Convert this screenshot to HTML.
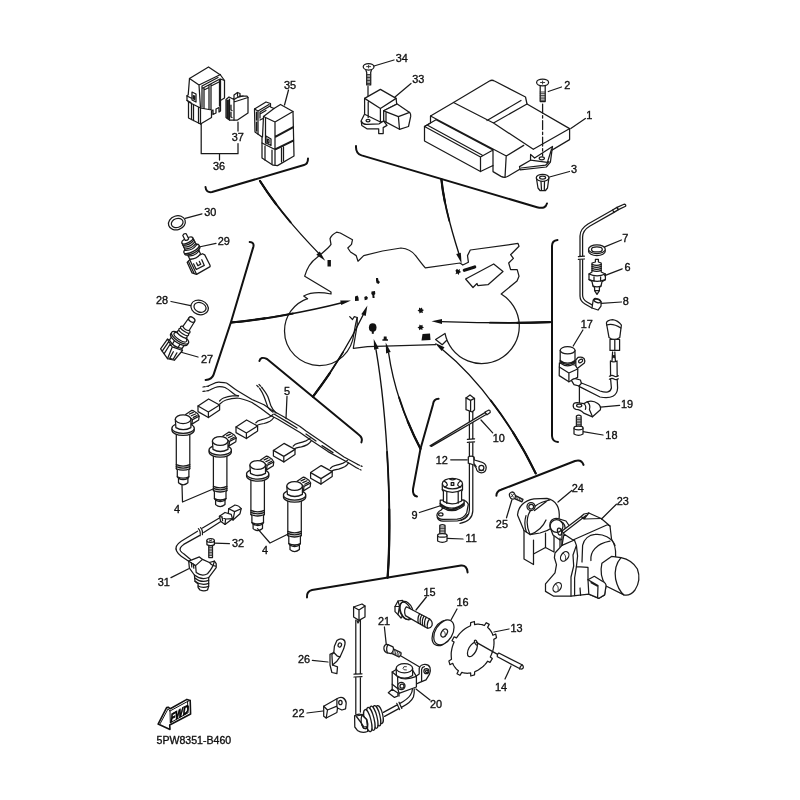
<!DOCTYPE html>
<html><head><meta charset="utf-8">
<style>
html,body{margin:0;padding:0;background:#fff;width:800px;height:800px;overflow:hidden}
svg{display:block;opacity:0.9999;will-change:transform}
text{font-family:"Liberation Sans",sans-serif;font-size:10.9px;fill:#111;stroke:#111;stroke-width:0.35px}
.l{fill:none;stroke:#1a1a1a;stroke-width:1.25;stroke-linecap:round;stroke-linejoin:round}
.f{fill:#fff;stroke:#1a1a1a;stroke-width:1.25;stroke-linecap:round;stroke-linejoin:round}
.t{fill:none;stroke:#111;stroke-width:2;stroke-linecap:round;stroke-linejoin:round}
.m{fill:none;stroke:#111;stroke-width:1.35;stroke-linecap:round;stroke-linejoin:round}
.k{fill:#111;stroke:none}
.g{fill:none;stroke:#2a2a2a;stroke-width:0.9;stroke-linecap:round;stroke-linejoin:round}
</style></head><body>
<svg width="800" height="800" viewBox="0 0 800 800">
<rect width="800" height="800" fill="#fff"/>
<g id="relays">
<!-- relay A (36) -->
<path class="f" d="M208.5,67 L189.5,78.5 L188.2,95 L187,95.5 L187,100.5 L188.5,101.5 L188.5,118 L200.5,124 L211.5,117.5 L211.5,111 L213,110 L213,114.5 L216,113 L216,109 L219,107.5 L219,112 L220.5,111 L220.5,100.5 L224.5,98 L224.5,80.5 L220.5,75 Z"/>
<path class="l" d="M189.5,78.5 L199,85 L220.5,74.5 M199,85 L200.5,108 L200.5,124 M188.5,102 L200.5,108 L211.5,110 M202,86 L202,107 M204,88 L204,108 M209,85 L209,109 M211,84 L211,109 M219.5,79 L219.5,106 M202,86 L218,77.5 M203,88 L219,79.5 M204,90 L209,87.5 M211,86 L219,82 M220.5,79 L224.5,80.5 M220.5,79 L220.5,100 M191.5,104 L191.5,119.5 M193.5,105 L193.5,120.5 M198.5,107.5 L198.5,123 M192,92 L196,94 L196,102 L192,100 Z M193.5,95.5 L194.5,96 L194.5,99.5 L193.5,99 Z M187,96 L191,98 M187,100.5 L191,102.5"/>
<!-- relay 37 -->
<path class="f" d="M226,99.5 L229,97 L234,99.5 L234,95 L237.5,92.5 L240,93.5 L240,96 L247,96 L248,97.5 L248,113 L237.5,120 L229.5,120 L226,117.5 Z"/>
<path class="l" d="M234,99.5 L234,102 L248,97.5 M234,102 L234,120 M227,100 L227,118 M228.2,100 L228.2,119 M229.5,99 L229.5,120 M231,105 L231,110 L232,110.5 M231,112 L231,117 L232,117.5 M234,99.5 L240,96 M236,98 L243,96 M237.5,92.5 L237.5,96"/>
<!-- relay B (35) -->
<path class="f" d="M254.5,109 L266,102 L270.5,103.5 L270.5,107 L274,108.5 L280.5,104.5 L293,111.5 L294,156 L277.5,165.6 L273,165.2 L262,158 L262,137 L255,132 Z"/>
<path class="l" d="M263.5,116.5 L275,122 L293,111.5 M263.5,116.5 L274,108.5 M275,122 L275,164.5 M263.5,116.5 L262.5,137 M265.5,118 L265.5,143 M275,136.5 L293.5,126.5 M275,137.5 L293.5,127.5 M275,149 L293.5,140 M275,150 L293.5,141 M262,143 L275,149.5 M254.5,109 L258,111 L258,134 M258,111 L269,104.5 M256.5,112 L256.5,120 M256.5,122 L256.5,131 M260,112 L270,106 M260,114 L266,110.5 M260,112 L260,118 M260,120 L263,118.5 M266,136 L271,139 L271,145.5 L266,143 Z M267.5,139 L269,139.8 L269,143 L267.5,142.2 Z M265,146 L265,160 M272,150 L272,164 M281.5,148 L281.5,162 M283.5,147 L283.5,161"/>
<!-- leaders -->
<path class="l" d="M284.5,105 L288.5,90 M201.2,124 L201.2,153.7 L238,153.7 L238,143.5 M238,122 L238,131 M219.5,153.7 L219.5,160"/>
<text x="290" y="88.7" text-anchor="middle">35</text>
<text x="237.7" y="141" text-anchor="middle">37</text>
<text x="219" y="170" text-anchor="middle">36</text>
<!-- bracket -->
<path class="t" d="M205.5,187 Q206,193 212,192 L304,165 Q308,164 308,158.5"/>
<path class="m" d="M260,181 C275,205 298,232 319,253.6"/>

<path class="m" style="stroke-width:1.8" stroke-dasharray="51.5 2000" d="M260,181 C275,205 298,232 319,253.6"/>
<path class="m" style="stroke-width:2.2" stroke-dasharray="28.1 2000" d="M260,181 C275,205 298,232 319,253.6"/>
<path class="k" d="M325.2,260.8 L316.3,254.7 L319.8,251.5 Z"/>
</g>

<g id="ecu">
<!-- screw 34 -->
<path class="f" d="M365.4,68.6 L366.7,72.5 L366.7,84.9 L370.7,84.9 L370.7,72.5 L371.8,68.6 Z"/>
<path class="g" d="M366.7,74.5 L370.7,74.5 M366.7,76 L370.7,76 M366.7,77.5 L370.7,77.5 M366.7,79 L370.7,79 M366.7,80.5 L370.7,80.5 M366.7,82 L370.7,82 M366.7,83.5 L370.7,83.5"/>
<ellipse class="f" cx="368.6" cy="66.8" rx="5.4" ry="3.2"/>
<path class="g" d="M366.6,66.6 L370.6,66.6 M368.6,65.2 L368.6,68"/>
<path class="l" d="M368,86.4 L368,96 M374,66 L394,60 M395,97 L411,83.5"/>
<text x="401.8" y="61.6" text-anchor="middle">34</text>
<text x="418.3" y="82.6" text-anchor="middle">33</text>
<!-- sensor 33 -->
<path class="f" d="M364.6,114 L361.2,120.8 L361.8,125.4 L366.9,128.8 L378.7,128.8 L378.7,133.6 L383.2,133.6 L383.2,127.6 L387,125.4 L383.7,121 L364.6,112 Z"/>
<path class="l" d="M361.3,121.4 Q363,124.6 366.9,124.4 L379.2,123.8 L383.7,121"/>
<ellipse class="l" cx="368" cy="120.6" rx="2" ry="1.3"/>
<path class="f" d="M364.6,98.4 L380.4,89.4 L396.1,98.4 L396.7,104 L383.7,110.8 L383.7,121 L380.4,122 L364.6,114.2 Z"/>
<path class="l" d="M364.6,98.4 L380.4,108.5 L396.1,98.4 M380.4,108.5 L380.4,122 M368.2,102 L368.2,117.4"/>
<path class="f" d="M383.7,110.8 L397.2,104 L409.6,112.4 Q411,114 410.7,116.4 L408.5,126.5 L399.5,129.3 L383.7,120.9 Z"/>
<path class="l" d="M383.7,110.8 L398.4,116.6 L409.6,112.4 M398.4,116.6 L399.5,129.3 M386,112.4 L386,121.8"/>
<!-- ECU body -->
<path class="f" d="M430.5,116 L453.5,102.5 L489.5,81 Q492,79.5 494.5,81 L525.5,97 L527,104 L569.6,128.6 L569.6,139.6 L508.4,176 Q504.6,178.4 501,176.4 L493,171.6 L493,165.5 L480.5,171.5 L424.5,141 L424.5,126.5 L430.5,123 Z"/>
<path class="l" d="M453.5,102.5 L493.5,123 L527,104 M487,120.5 L521,100.5 M493.5,123 L533.3,149.3 M430.5,116 L506.3,156 L523.7,145.4 M533.3,149.3 L569.4,128.8 M506.2,156 L505,177.4 M436,119.8 L493,150 L493,165.5 M424.5,126.5 L436,119.8 M424.5,126.5 L480.5,157 L493,150 M480.5,157 L480.5,171.5 M428,125.5 L482,155"/>
<!-- bracket under ECU -->
<path class="f" d="M519.5,166.6 L530.5,160.2 L530.6,154.4 L534.6,158 L552.5,146.4 L550.4,162.2 L546.3,167 L520.2,169.8 Z"/>
<path class="l" d="M530.5,160.2 L547.4,162.4 L551.6,149 M521,168 L545.6,165.2 L549,161.6"/>
<ellipse class="l" cx="541.8" cy="158.3" rx="2.6" ry="1.5"/>
<!-- screw 2 -->
<path class="f" d="M540.2,85 L540.2,101.5 L545.2,101.5 L545.2,85 Z"/>
<path class="g" d="M540.2,92 L545.2,92 M540.2,93.7 L545.2,93.7 M540.2,95.4 L545.2,95.4 M540.2,97.1 L545.2,97.1 M540.2,98.8 L545.2,98.8 M540.2,100.3 L545.2,100.3"/>
<ellipse class="f" cx="542.6" cy="82.5" rx="6" ry="3.4"/>
<path class="g" d="M540.5,82.5 L544.7,82.5 M542.6,81 L542.6,84"/>
<path class="l" stroke-dasharray="9 2.5 2.5 2.5" d="M542.6,104 L542.6,156"/>
<path class="l" d="M548.3,91.5 L561.5,87 M570.8,128.6 L585.4,118.5 M549.5,177 L569.5,171.5"/>
<text x="567.4" y="89.3" text-anchor="middle">2</text>
<text x="589.2" y="119" text-anchor="middle">1</text>
<text x="574.1" y="173" text-anchor="middle">3</text>
<!-- grommet 3 -->
<path class="f" d="M536.4,178 L538,188 L540,190.5 L545.5,190.5 L547.5,188 L548.9,178 Z"/>
<ellipse class="f" cx="542.6" cy="177.8" rx="6.3" ry="3.5"/>
<ellipse class="l" cx="542.6" cy="177.6" rx="3" ry="1.6"/>
<path class="l" d="M541,181.3 L541.5,190 M544.5,181.3 L544.3,190"/>
<!-- bracket -->
<path class="t" d="M356,146 Q355.6,153.4 361.6,155.4 L537,207.2 Q545.6,209.6 547,203.4"/>
<path class="m" d="M441.4,179.4 C444,205 452,232 459,254"/>

<path class="m" style="stroke-width:1.8" stroke-dasharray="42.2 2000" d="M441.4,179.4 C444,205 452,232 459,254"/>
<path class="m" style="stroke-width:2.2" stroke-dasharray="23.0 2000" d="M441.4,179.4 C444,205 452,232 459,254"/>
<path class="k" d="M461.6,263.4 L456.2,254.1 L460.8,252.7 Z"/>
</g>

<g id="bike">
<!-- front wheel -->
<path class="l" d="M307.5,298.7 C294,303.4 284.5,316 284.5,331 A35,34.5 0 0 0 319.5,365.5 C338,365.5 352,352 354,333 C355,327 356,322 357.2,317.5"/>
<!-- body outline -->
<path class="l" d="M307.5,298.7 L303.7,296 C310,292.6 320,291.8 331,294 L331,292 L304.7,276.2 C307,268 312,261 317,257.5 C322,253 329,248 331,244.4 L330,238.7 C331,236 334,233.5 336.6,232.2 L340.3,233 L352.5,239.7 L351.5,244.4 L347.8,248 L350.5,252 L356.2,255.6 L358,261.2 L363.7,255.6 L382.5,251 L401,248 C408,248.5 413,252 416,256 C419,260 422,264 425.3,267.8 L460,263 L462.8,265 L468.4,262.2 L467.5,255.6 L470.3,250 L518,243.4 L519,246.2 L510.6,254.7 L513.4,258.4 L508.7,263 L510.6,269.7 L517.2,269.7 L519,276.2 L517,281 L501.2,294 A37.5,37.5 0 1 1 445,333.4 L435.6,339.5 L442.2,344.7 L446.5,340.5"/>
<path class="l" d="M349.7,316.6 L352.5,319.5 L354.3,316.6 L357.2,317.5 L357.2,325 L353.4,347.5 L353.4,348.4 L367.5,346.6 L435.6,344.7"/>
<path class="l" d="M465.6,279 L493.7,264 L503,271.5 L488,284.7 L477.8,285.6 L477,283.5 L473,287.5 Z"/>
<!-- black marks -->
<rect class="k" x="327.5" y="260" width="3.4" height="6.5"/>
<path class="k" d="M376,278 l2,0 l0.5,2.5 l1.5,1.5 l-1.5,2 l-2,-1 l-0.5,-2.5 Z"/>
<path class="k" d="M355,296.5 l2.5,-1 l1,2 l0.3,3.2 l-3.8,0.3 Z M364.3,297 l2,-1 l1.6,1.6 l-0.6,2 l-2.6,0.6 Z M371.5,291.5 l3.5,-0.5 l0.3,3 l-1,1 l0.3,3 l-2,0 l-0.3,-3 l-1,-1 Z"/>
<ellipse class="k" cx="372.7" cy="327.5" rx="3.8" ry="4.3"/>
<rect class="k" x="371.8" y="331" width="2" height="2.8"/>
<path class="k" d="M382.4,339.2 L388,339.2 L388,340.8 L382.4,340.8 Z M383.8,336.6 L386.6,336.6 L386.8,339.4 L383.6,339.4 Z"/>
<path class="k" d="M455.5,270.5 l1.5,-1.8 l1.2,1.2 l1.8,-0.8 l-0.3,2 l1.5,1 l-2,0.8 l-0.3,2 l-1.5,-1.4 l-2,0.7 l0.8,-1.8 Z"/>
<path d="M464.3,270.3 L474.7,267" stroke="#111" stroke-width="3.2" fill="none" stroke-linecap="round"/>
<path class="k" d="M419,307.5 l1.5,1 l1.5,-1 l0.3,1.8 l1.7,0.7 l-1.5,1.2 l0.5,1.8 l-2,-0.6 l-1.5,1.2 l-0.3,-2 l-1.7,-0.8 l1.5,-1.2 Z"/>
<path class="k" d="M419.5,324.5 l1.5,1 l1.5,-0.8 l0,1.8 l1.5,1 l-1.7,0.8 l0.2,1.8 l-1.8,-0.8 l-1.5,1 l-0.2,-1.8 l-1.5,-1 l1.7,-1 Z"/>
<path class="k" d="M422.5,334 L430,333.5 L430.5,340 L421.5,340.5 Z"/>
<!-- arrows into bike -->
<path class="m" d="M231,322.5 C262,320 310,311 343,302.5"/>

<path class="m" style="stroke-width:1.8" stroke-dasharray="62.6 2000" d="M231,322.5 C262,320 310,311 343,302.5"/>
<path class="m" style="stroke-width:2.2" stroke-dasharray="34.2 2000" d="M231,322.5 C262,320 310,311 343,302.5"/>
<path class="k" d="M351.0,300.5 L341.2,305.1 L340.2,300.4 Z"/>
<path class="m" d="M550,322.2 C510,323.5 470,322.5 441,321.6"/>

<path class="m" style="stroke-width:1.8" stroke-dasharray="60.0 2000" d="M550,322.2 C510,323.5 470,322.5 441,321.6"/>
<path class="m" style="stroke-width:2.2" stroke-dasharray="32.7 2000" d="M550,322.2 C510,323.5 470,322.5 441,321.6"/>
<path class="k" d="M431.5,321.3 L442.0,319.1 L442.0,323.9 Z"/>
</g>

<g id="left">
<!-- ring 30 -->
<ellipse class="f" cx="176.9" cy="222.8" rx="8.6" ry="6.9" transform="rotate(-18 176.9 222.8)" stroke-width="1.9"/>
<ellipse class="l" cx="177.2" cy="223" rx="6" ry="4.5" transform="rotate(-18 177.2 223)"/>
<path class="l" d="M185.2,218.4 L202,213.8 M199,247 L216,243.4 M171,301.5 L190.6,305.6 M180.3,352 L198,357"/>
<text x="210.3" y="215.6" text-anchor="middle">30</text>
<text x="223.8" y="245.3" text-anchor="middle">29</text>
<text x="162.1" y="303.8" text-anchor="middle">28</text>
<text x="207.1" y="363.1" text-anchor="middle">27</text>
<!-- sensor 29 -->
<g transform="translate(184.5,234.6) rotate(-26)">
<path class="f" d="M-9.8,26.1 L-6.3,24.9 L7.8,25.1 L9.3,27.1 L9.5,38.8 L9,40 L-6.6,41 L-10,37.7 Z"/>
<path class="l" d="M-6.3,24.9 L-6.6,41 M-8.2,25.6 L-8.4,39.2"/>
<path class="l" stroke-width="1.6" d="M-4.7,30.2 L-4.7,36.5 L4.3,36.4 L4.5,30.2 M-1.6,30.6 L-1.6,33.8 L1.6,33.8 L1.6,30.6"/>
<path class="f" d="M-6,17 L-6,24.4 Q0,27.4 6,24.4 L6,17 Z"/>
<path class="l" d="M-6,21 Q0,24 6,21"/>
<ellipse class="f" cx="0" cy="17.6" rx="8.4" ry="3"/>
<ellipse class="f" cx="0" cy="16" rx="8.4" ry="3"/>
<path class="f" d="M-6,6.5 L-6.2,14.6 Q0,18 6.2,14.6 L6,6.5 Z"/>
<path class="l" d="M-6.1,9 Q0,12 6.1,9 M-6.1,11 Q0,14 6.1,11 M-6.2,13 Q0,16 6.2,13"/>
<ellipse class="f" cx="0" cy="6.5" rx="6" ry="2.4"/>
<path class="f" d="M-1.9,0 L-1.9,5.6 Q0,6.8 1.9,5.6 L1.9,0 Q0,-1.6 -1.9,0 Z"/>
</g>
<!-- ring 28 -->
<ellipse class="f" cx="199.6" cy="307.4" rx="8.9" ry="7.1" transform="rotate(20 199.6 307.4)" stroke-width="1.9"/>
<ellipse class="l" cx="200" cy="307.4" rx="6.2" ry="4.7" transform="rotate(20 200 307.4)"/>
<!-- sensor 27 -->
<g transform="translate(191.8,319.6) rotate(33)">
<path class="f" d="M-10.2,41.6 L-9.8,29.6 L5.9,29.1 L9,31 L7.5,43.6 L0.9,46 Z"/>
<path class="l" d="M-1.5,33.6 L0.9,46 M-9.8,29.8 L-1.5,33.6 L9,31 M-7.4,31 L-7.6,42.6 M-4.8,32.2 L-4.6,43.6 M2,37 L2.6,44.6 L6,43.4 L5.6,36"/>
<path class="f" d="M-7.6,24 L-7.6,29.4 Q0,33.6 7.6,29.4 L7.6,24 Z"/>
<path class="l" d="M-3,26 L-3,31.4 M3.6,26 L3.6,31.2"/>
<ellipse class="f" cx="0" cy="23.4" rx="10" ry="3.9"/>
<ellipse class="f" cx="0" cy="21.6" rx="10" ry="3.9"/>
<ellipse class="l" cx="0" cy="21" rx="7.4" ry="2.7"/>
<ellipse class="f" cx="0" cy="17.6" rx="5.7" ry="2.1"/>
<ellipse class="f" cx="0" cy="14.8" rx="5.7" ry="2.1"/>
<ellipse class="f" cx="0" cy="12" rx="5.5" ry="2"/>
<path class="f" d="M-3.4,0 L-3.7,10.6 Q0,12.8 3.7,10.6 L3.4,0 Z"/>
<ellipse class="f" cx="0" cy="0" rx="3.4" ry="2.3"/>
</g>
<!-- bracket -->
<path class="t" d="M249.7,241.9 Q254.4,242.4 253.4,246.6 L231,322 L213.6,374.6 Q212,379.4 205.6,380"/>
</g>

<defs>
<g id="coil">
<path class="f" d="M2.5,-13.8 L8.8,-17.9 L10.6,-17.3 L14.4,-14.8 L16,-12 L15.6,-8.2 L8.8,-4.1 L5,-6 Z"/>
<path class="l" d="M16,-12 L9.4,-8.6 L8.8,-4.1 M9.4,-8.6 L6.6,-10.6"/>
<path class="l" stroke-width="1.5" d="M6.4,-14.2 L10.2,-15.8 M8.2,-12.4 L12.4,-14.2 M10.2,-10.8 L14,-12.6"/>
<path class="f" d="M-6.8,3 L-6.8,40.5 L-5.8,41.6 L-5.8,48.6 L-4.6,50 L-4.6,54.6 Q0,58.6 4.8,54.6 L4.8,50 L5.8,48.6 L5.8,41.6 L6.7,40.5 L6.7,3 Z"/>
<path class="l" d="M-6.8,36.4 Q0,39.4 6.7,36.4 M-6.8,38.4 Q0,41.4 6.7,38.4 M-6.8,40.5 Q0,43.5 6.7,40.5 M-5.8,48.6 Q0,51.4 5.8,48.6 M-4.6,50.2 Q0,52.8 4.8,50.2"/>
<ellipse class="f" cx="0" cy="1.8" rx="11.2" ry="5.4"/>
<ellipse class="f" cx="0" cy="0" rx="11.2" ry="5.2"/>
<path class="f" d="M-7.8,-9 L-7.2,-0.6 Q0,3.6 7.8,-0.6 L7.8,-9 Z"/>
<ellipse class="f" cx="0" cy="-9" rx="7.8" ry="4.4"/>
</g>
<g id="hbox">
<path class="f" d="M0,0 L10.6,-7 L21.6,-1 L21.6,4 L10.4,11.5 L0,5.6 Z"/>
<path class="l" d="M0,0 L10.4,6 L21.6,-1 M10.4,6 L10.4,11.5"/>
</g>
</defs>
<g id="coils">
<!-- harness -->
<path class="l" d="M208.5,386 C213,384 216,382 219,382.2 C222,382.4 224,382.4 226.5,383 C230,385 233,388 237,390.5 L252,399.5 L264,404.8 L271.5,410 L285,417.5 L300,426.5 L306,431 L328,446 L344,457 L357,464"/>
<path class="l" d="M208.5,390.5 C212,389 215,387 217.5,386.8 C220,386.6 223,386.8 225,387.5 C229,389.5 232,392.5 235.5,395 L238.5,395.8"/>
<path class="l" d="M219.6,401 C221,399.4 222,398.6 223.5,398 C227,396.6 230,396 232.5,395.8 L238.5,395.8 M219.8,404 C222,402 224,400.6 226,400 C230,398.6 234,398 237,398 C242,398.6 247,400.4 252,402.5 L261,408.5 L270,415.2 L277.5,419 L285,423.5 L300,432.5 L310,439.6 L328,451.6 L348,462.5 L356,467.5"/>
<path class="l" d="M274,414 L288,422.4 L297,428 M306,434 L316,441 M322,445.6 L333,452.6"/>
<path class="l" d="M255.8,422.8 C257,421 259,420.2 261,419.8 C264,419 266,418.4 268.5,417.5 C270.4,416.6 272,415.6 273,414.5 M256.5,425.8 C258,424.6 261,424 264,423.5 C266,423 268,422.2 270,421.2 C272,420 273,418.8 273.8,417.5"/>
<g transform="translate(37.4,23.4)"><path class="l" d="M255.8,422.8 C257,421 259,420.2 261,419.8 C264,419 266,418.4 268.5,417.5 C270.4,416.6 272,415.6 273,414.5 M256.5,425.8 C258,424.6 261,424 264,423.5 C266,423 268,422.2 270,421.2 C272,420 273,418.8 273.8,417.5"/></g>
<g transform="translate(74.6,45.6)"><path class="l" d="M255.8,422.8 C257,421 259,420.2 261,419.8 C264,419 266,418.4 268.5,417.5 C270.4,416.6 272,415.6 273,414.5 M256.5,425.8 C258,424.6 261,424 264,423.5 C266,423 268,422.2 270,421.2 C272,420 273,418.8 273.8,417.5"/></g>
<path class="l" d="M259.5,388.2 C261.4,391 263,394 264,396.5 C265.4,400 266.6,404 267.8,407 C269,409.4 271,411 273,412.2 M261.8,387.5 C264,390.4 266.4,393.4 267.8,396.5 C269,399.6 269.8,402.6 270.8,405.5 C272,408.6 274,411 276,413"/>
<path class="l" stroke-dasharray="2.2 1.6" d="M203,387 L208.4,386.2 M203,391.4 L208.4,390.6 M357.5,464.4 L362,466.4 M356.5,467.8 L361,470 M256.8,385.4 L259.4,388 M259,384.4 L261.6,387.2"/>
<use href="#hbox" x="198" y="406"/>
<use href="#hbox" x="236" y="427"/>
<use href="#hbox" x="273.4" y="450.4"/>
<use href="#hbox" x="310.6" y="472.6"/>
<use href="#coil" x="183.1" y="428.2"/>
<use href="#coil" x="220.2" y="450"/>
<use href="#coil" x="257.7" y="474"/>
<use href="#coil" x="294.6" y="495"/>
<path class="l" d="M287,396.4 L286,418.6 M182,485 L182.5,502 L213.7,488.7 M257.5,528.7 L270,543 L288.7,533.7"/>
<text x="287" y="395" text-anchor="middle">5</text>
<text x="177" y="512.6" text-anchor="middle">4</text>
<text x="265" y="554.2" text-anchor="middle">4</text>
<!-- sensor 31 -->
<path class="l" d="M219.4,518 L202.5,528 M197.5,531.2 L181.2,541.2 Q174,546 176.6,551 Q178,554 181.2,556.2 L188.7,561.2 M221.2,521.2 L203.7,532.5 M199.4,535.6 L183.7,544.4 Q178.6,548 180.6,551 Q182,553 183.7,553.8 L190.6,559.4 M200.6,527.6 Q203,530 202.4,534.6 M198.4,528.6 Q200.8,531 200.2,535.6"/>
<path class="f" d="M228.7,508.7 L235,505 Q239,505.4 241.2,508.7 L240,513.7 L233,520 L228,517 Z"/>
<path class="f" d="M219.4,516.2 L225,512.5 L231.2,514.4 L232.5,518.7 L225,524.4 L220.6,521.2 Z"/>
<path class="l" d="M219.4,516.2 L225.6,519 L232.5,518.7 M225.6,519 L225,524.4 M228.7,508.7 L234.6,511.6 L241.2,508.7 M234.6,511.6 L233,520 M222,516.6 L222.6,520.6"/>
<path class="f" d="M188.7,561.2 L199.4,556.9 L202.5,559.4 L209.4,562.5 L214.4,561.2 L216.2,563.7 L216.2,567.5 L208.7,577.5 L208.7,586.2 L207.5,590 Q204,591.6 200,590 L198.1,587.5 L198.1,584 L195,581.2 L194.4,575 L189.4,568.1 Z"/>
<path class="l" d="M188.7,561.2 L195.6,565.6 L202.5,559.4 M195.6,565.6 L196.2,572.5 Q202,577 207.5,573.7 Q213,568 214.4,561.2 M194.4,575 Q201,580.4 208.7,577.5 M194.8,578 Q201,583.4 208.7,580.4 M195,581.2 Q201,586 208.7,583.4 M198.1,586 Q203,588.6 208.6,586.2 M191.4,562.6 L191.8,567 M193.4,563.8 L193.8,568.2 M209.4,562.5 Q212,566 215.6,566"/>
<path class="l" d="M171,577.6 L188.7,568.8 M214.4,543.1 L229.4,543.7"/>
<text x="163.7" y="585.6" text-anchor="middle">31</text>
<text x="238.1" y="547.4" text-anchor="middle">32</text>
<!-- screw 32 -->
<path class="f" d="M208.8,545.6 L208.8,557.5 L212.5,557.5 L212.5,545.6 Z"/>
<path class="g" d="M208.8,547.6 L212.5,547.6 M208.8,549.2 L212.5,549.2 M208.8,550.8 L212.5,550.8 M208.8,552.4 L212.5,552.4 M208.8,554 L212.5,554 M208.8,555.6 L212.5,555.6"/>
<path class="f" d="M206.9,540.6 L206.9,544.6 Q210.6,546.8 214.4,544.6 L214.4,540.6 Z"/>
<ellipse class="f" cx="210.6" cy="540.6" rx="3.75" ry="1.9"/>
<path class="g" d="M209.4,540.2 L211.8,541 M211.6,539.8 L209.6,541.4"/>
<!-- bracket -->
<path class="t" d="M259.4,361 Q260.6,356 267,359 L358,434 Q363.4,438 361.4,442.4"/>
<path class="m" d="M313,396.6 C335,368 351,340 363.6,314"/>

<path class="m" style="stroke-width:1.8" stroke-dasharray="53.4 2000" d="M313,396.6 C335,368 351,340 363.6,314"/>
<path class="m" style="stroke-width:2.2" stroke-dasharray="29.1 2000" d="M313,396.6 C335,368 351,340 363.6,314"/>
<path class="k" d="M367.4,305.4 L365.7,316.0 L361.3,314.2 Z"/>
</g>

<g id="right">
<!-- wire 8 -->
<path class="l" d="M612.6,210 L588,224 Q580,229 580,236 L580,256.4 M614,212.4 L590,226 Q582.6,230.4 582.6,237 L582.6,256.4 M580,259.4 L580,296 Q580,301 585,304 L592,308 M582.6,259.4 L582.6,295 Q582.6,299.4 587,302 L593,305.4 M578.4,256.6 L584.4,256.2 M578.4,259.4 L584.4,259"/>
<path class="f" d="M612.6,210 L617,207.4 L618.4,209.6 L614,212.4 Z"/>
<path class="f" d="M617,207.4 L624,204.2 Q626.4,204.4 625.6,206.2 L618.4,209.6 Z"/>
<path class="f" d="M593.2,300 Q597,297.6 601.2,301.6 L601,306 L598,310 L592,308 Z"/>
<ellipse class="l" cx="597.2" cy="300.6" rx="3.6" ry="1.8" transform="rotate(20 597.2 300.6)"/>
<!-- ring 7 -->
<ellipse class="f" cx="596.9" cy="251" rx="8.4" ry="4.6" stroke-width="1.3"/>
<ellipse class="f" cx="596.9" cy="249.2" rx="8.4" ry="4.4" stroke-width="1.3"/>
<ellipse class="l" cx="596.9" cy="249.4" rx="5.4" ry="2.6"/>
<!-- plug 6 -->
<path class="f" d="M595.4,259.4 L598.4,259.4 L598.4,262 L601.2,263 L601.2,272 L605.4,274 L605.4,279.6 L602,281.6 L601,286 L599.4,287.6 L599.4,290.6 L597,294.4 L594.6,290.6 L594.6,287.6 L593,286 L592,281.6 L589,279.6 L589,274 L592,272 L592,263 L595.4,262 Z"/>
<path class="l" d="M592,264.4 Q596.6,266.4 601.2,264.4 M592,266.4 Q596.6,268.4 601.2,266.4 M592,268.4 Q596.6,270.4 601.2,268.4 M592,270.4 Q596.6,272.4 601.2,270.4 M589,274 Q597,277.6 605.4,274 M589,279.6 Q597,283 605.4,279.6 M594,275.6 L594,281.4 M600.6,275.6 L600.6,281.4 M593,286 Q597,287.6 601,286 M594.6,290.6 L599.4,290.6"/>
<path class="l" d="M604.7,246.9 L621.4,240 M604.7,275.7 L622.2,268.8 M601.2,303.4 L621.4,302 M582.9,330 L573.2,346"/>
<text x="625.2" y="242.3" text-anchor="middle">7</text>
<text x="627.5" y="270.6" text-anchor="middle">6</text>
<text x="625.7" y="305.2" text-anchor="middle">8</text>
<text x="586.8" y="327.6" text-anchor="middle">17</text>
<!-- sensor 17 -->
<path class="f" d="M575.8,360 L578,357.4 Q581.6,356.4 584,358.4 Q585.4,361 584.4,363 L575.9,369.6 Z"/>
<ellipse class="l" cx="580.6" cy="361" rx="2.2" ry="1.5" transform="rotate(-30 580.6 361)"/>
<path class="f" d="M559.4,363 L559.2,375.6 L568.9,381.8 L577.6,377.4 L577.8,369 L575,365 Z"/>
<path class="l" d="M559.3,367 L568.9,373 L577.6,369 M568.9,373 L568.9,381.8"/>
<path class="f" d="M560.2,350.4 L560.2,363 Q567.6,368.6 575,363 L575,350.4 Z"/>
<path class="l" d="M560.2,360.4 Q567.6,366 575,360.4 M560.2,361.8 Q567.6,367.4 575,361.8"/>
<ellipse class="f" cx="567.6" cy="350.3" rx="7.4" ry="3.6"/>
<!-- cable -->
<path class="f" d="M571.4,380.4 Q573,378.4 575.4,378.6 L580.4,380 L581.4,383.4 L579,386 L574,384.6 Z"/>
<path class="l" d="M581.4,383 Q590,386 600,391 Q610,394.4 611.4,388 L610.6,379 M579,386.4 Q590,392 600,397 Q617,400 617.6,388 L617.2,379 M610.6,376 L610.4,361 M617.2,376 L617,361 M609.4,379.2 Q612,377.6 614,379 Q616,380.4 618.4,378.8 M609.4,376.2 Q612,374.6 614,376 Q616,377.4 618.4,375.8 M610.4,361 Q613.6,362.6 617,361 M612,361 L612.6,352 M615.4,361 L614.8,352 M612.6,355 L614.8,358 M614.8,355 L612.6,358"/>
<path class="f" d="M610,339.4 L610,350.4 L619.6,350.4 L619.6,339.4 Z"/>
<path class="l" d="M614.8,340 L614.8,350.4"/>
<path class="f" d="M606.4,323 Q607,320 612.6,319.6 Q618,320.4 621.4,325 L619.8,337.4 Q614,341.4 609,337.4 Z"/>
<path class="l" d="M606.6,325 Q613,323 620.8,328"/>
<!-- clamp 19 -->
<path class="f" d="M573.2,405.4 Q573.4,402.6 577,402.6 L584,403.6 L587.2,401.8 Q593,400 597.7,403.6 Q601.4,406.4 600.4,409.8 L592.5,416.8 L583.7,413.2 Q580.4,409.4 576,409.4 Q573,408.4 573.2,405.4 Z"/>
<path class="l" d="M587.2,401.8 Q591,405 589.4,409.6 L592.5,416.8 M584,403.6 Q586.6,406 585.4,409.4"/>
<ellipse class="l" cx="579.2" cy="405.6" rx="2.6" ry="1.5"/>
<path class="l" d="M579.4,386 L579.4,402.6 M600.4,407.1 L619.6,405.4 M583,431.6 L603,435"/>
<text x="627" y="408.2" text-anchor="middle">19</text>
<text x="611.4" y="438.8" text-anchor="middle">18</text>
<!-- bolt 18 -->
<path class="f" d="M576.4,416 Q578.7,414.4 581.1,416 L581.1,427.4 L576.4,427.4 Z"/>
<path class="g" d="M576.4,418 L581.1,418 M576.4,419.6 L581.1,419.6 M576.4,421.2 L581.1,421.2 M576.4,422.8 L581.1,422.8 M576.4,424.4 L581.1,424.4 M576.4,426 L581.1,426"/>
<path class="f" d="M574,428 L574,434 Q578.6,436.6 583,434 L583,428 Z"/>
<ellipse class="f" cx="578.5" cy="428" rx="4.5" ry="1.8"/>
<!-- bracket -->
<path class="t" d="M557.5,240 Q552,240.6 552,246 L552,436 Q552.4,441.6 558,442"/>
</g>

<g id="mid">
<!-- wire -->
<path class="l" d="M469.4,411 L469.4,439 M472.8,412 L472.8,439 M469.4,442 L469.4,510 Q469,518 461,520.4 M472.8,442 L472.8,511 Q472.4,521 460,523.4 M467.4,439.4 L474.6,438.8 M467.4,442.4 L474.6,441.8"/>
<path class="f" d="M466,397.9 L470,395 L474.5,398.4 L474.5,409.7 L472.2,412 L466,409.7 Z"/><path class="l" d="M466,397.9 L470.6,400.4 L474.5,398.4 M470.6,400.4 L470.6,411.4"/>
<!-- cable tie 10 -->
<path class="f" d="M430,445.7 L485.4,412.4 L486.6,414.2 L431.4,446.4 Z"/>
<path class="f" d="M485,412 L489,410 Q490.6,410.4 490.2,412.4 L487,414.8 Z"/>
<!-- clamp 12 -->
<path class="f" d="M468.3,457 Q471,455.4 473.9,457 L474.4,460 L480,461.6 Q485.8,462.8 486.2,467.4 Q486,472.6 481.2,472.8 Q476.6,472.4 476.2,468 L474,465 L468.3,463.2 Z"/>
<circle class="l" cx="481.4" cy="467.8" r="2.5"/>
<path class="l" d="M473.9,457 L473.9,463.4 L476.2,466.6 M479,470 Q481.4,471.4 483.6,470"/>
<path class="l" d="M481,420 L492.7,432.8 M450.7,459.8 L467.2,459.8 M419.4,512.5 L439.6,506 M447,538.4 L463,539 M506.5,517.8 L511.9,499.8"/>
<text x="498.7" y="441.8" text-anchor="middle">10</text>
<text x="441.7" y="463.7" text-anchor="middle">12</text>
<text x="414.5" y="518.5" text-anchor="middle">9</text>
<text x="471.2" y="542.4" text-anchor="middle">11</text>
<text x="501.9" y="527.5" text-anchor="middle">25</text>
<!-- sensor 9 -->
<path class="f" d="M437,516 Q436.4,512.6 441.2,510 L446,504 L462,500 Q466.7,500 468.3,504.3 L466.7,512.8 Q464,518.4 457.2,519.2 L443,519.4 Q438,519 437,516 Z"/>
<path class="l" d="M437.2,517.6 Q438.6,521 443,521.2 L457.2,521 Q465,520 467.4,514.6"/>
<ellipse class="l" cx="440.8" cy="514.4" rx="2.2" ry="1.5"/>
<path class="f" d="M440.2,500 L440.2,506 Q452,515.6 464.1,505.6 L464.1,500 Z"/>
<path class="l" d="M440.2,503.4 Q452,513 464.1,503 M440.6,505 Q452,514.4 463.8,504.6"/>
<path class="f" d="M442.3,484 L442.3,489.6 L443.4,491.6 L443.4,501.4 Q452.4,506.4 461.6,501 L461.6,491.6 L462.5,489.6 L462.5,484 Z"/>
<path class="l" d="M442.3,489.6 Q452.4,495 462.5,489.6 M446.8,492.2 L446.8,503.4 M458.2,492.2 L458.2,503.2"/>
<ellipse class="f" cx="452.4" cy="483.6" rx="10.1" ry="5.3"/>
<path class="l" stroke-width="0.9" d="M444.6,481.4 Q447,482.4 447.4,485 Q446,487 444.4,487.2 M460.2,481.2 Q458,482.4 457.6,485 Q459,487 460.8,487 M449.6,479 Q452.4,480.6 455.4,479 M451.2,482.6 L451.2,485.4 L453.8,485.4 L453.8,482.6 Z"/>
<!-- bolt 11 -->
<path class="f" d="M439.8,525.4 Q442.4,523.8 445,525.4 L445,535 L439.8,535 Z"/>
<path class="g" d="M439.8,527 L445,527 M439.8,528.6 L445,528.6 M439.8,530.2 L445,530.2 M439.8,531.8 L445,531.8 M439.8,533.4 L445,533.4"/>
<path class="f" d="M437.6,535.4 L437.6,541 Q442.4,543.6 447,541 L447,535.4 Z"/>
<ellipse class="f" cx="442.3" cy="535.4" rx="4.7" ry="1.8"/>
<!-- screw 25 -->
<path class="f" d="M515,495.4 L523,499.4 L522,501.8 L514,498.4 Z"/>
<path class="g" d="M516.6,496.4 L515.8,499 M518.2,497.2 L517.4,499.8 M519.8,498 L519,500.6 M521.4,498.8 L520.6,501.2"/>
<ellipse class="f" cx="512.4" cy="495.6" rx="2.8" ry="3.6" transform="rotate(-20 512.4 495.6)"/>
<path class="g" d="M511.4,494 L513.4,497.2 M513.6,494.2 L511.2,497"/>
<!-- bracket -->
<path class="t" d="M438.6,398.8 Q433.6,399 433,404.4 L420.5,448.8 L413,489 Q412.4,495.6 417,496.6"/>
<path class="m" d="M420.5,448.8 C408,425 394,390 388.6,353"/>

<path class="m" style="stroke-width:1.8" stroke-dasharray="55.8 2000" d="M420.5,448.8 C408,425 394,390 388.6,353"/>
<path class="m" style="stroke-width:2.2" stroke-dasharray="30.4 2000" d="M420.5,448.8 C408,425 394,390 388.6,353"/>
<path class="k" d="M385.7,342.6 L390.7,352.1 L386.1,353.4 Z"/>
</g>

<g id="lock">
<!-- part 24 cover: flat bracket -->
<path class="f" d="M524,530 L524,559 L533.5,564.5 L533.5,554 L545.5,547.5 L554,552 L554,530 L540,524 Z"/>
<path class="l" d="M533.5,540 L533.5,554 M545.5,533 L545.5,547.5"/>
<!-- disc -->
<path class="f" d="M517.5,515 C518,507 524,500.5 534,498.8 L547,498.4 C556,500 560.5,508 559,519 C556,527 548,531 540,533 L530,534.6 L524,530.4 Z"/>
<path class="l" d="M528.4,514.6 C530,509 538,502 550,500 M528.4,514.6 C526.6,520 527,528 530,534.6 M534.5,510.5 L549,499.6 M526,515.6 C524.4,521 524.6,527 526.4,532 M546,520 C543,527 537,532 530,534.6"/>
<circle class="f" cx="531" cy="506.5" r="4"/>
<circle class="l" cx="531.2" cy="506.7" r="2.4"/>
<!-- joint -->
<path class="f" d="M550,527 C549,520 554,517.6 558,518.6 L566,521 L570,527 L566,538 L560,540 L553,535 Z"/>
<circle class="f" cx="556.6" cy="526" r="6.4"/>
<path class="l" d="M561,521.6 Q566,524 565,531 M560,538 L560,547 M562.4,536 L562.4,546"/>
<ellipse class="l" cx="559.6" cy="531.6" rx="2" ry="3.6" transform="rotate(-15 559.6 531.6)"/>
<!-- part 23 body -->
<path class="f" d="M562,531 L581.2,516.5 L584,514 L588.8,513 L601.2,518.5 L610,526 L611.5,539 Q616,546 615.6,555 L615.6,566 L606,586 L604.6,594.9 L599,598.3 L588.8,594.2 L571,596.2 L553.7,596.2 L545.5,591.4 L545.5,583.9 L555,572.9 L556.5,564.6 L554.4,557.7 L555,553 L562,545.4 Z"/>
<path class="l" d="M563.4,533 L586,515.4 M562,531 L564,534 L573,540 L607.4,524.7 L610,526 M564,534 L562,545.4 M581.2,516.5 L584,519 L588.8,513 M584,519 L601.2,518.5"/>
<path class="l" d="M562,545.4 L574.4,540 L576.4,545.4 L573,555 L573.7,566 L571,577 L571,596.2 M576.4,545.4 L577.6,556 L576.4,566.7 L574.6,578 L574.6,595.6 M576.4,566.7 L588,567.4 L588,579.7 M582.6,545.4 C584,539 589,535 595,534.4 C603,533.4 612,538 615,545.4 M582.6,545.4 L582,562 M590.9,560.5 C590,552 596,543.6 610,541.2 M580,588 L580.6,595.4"/>
<ellipse class="l" cx="564.7" cy="556.4" rx="3.6" ry="5.2" transform="rotate(35 564.7 556.4)"/>
<ellipse class="l" cx="557.2" cy="587.3" rx="3.6" ry="5.2" transform="rotate(35 557.2 587.3)"/>
<path class="g" d="M563.4,553.4 Q566.6,555 565.4,560 M556,584.4 Q559.2,586 558,591"/>
<!-- cylinder -->
<path class="f" d="M601.9,563.2 L611.5,556.4 L621,557.7 Q632,560 637.4,569 Q641.4,580 635,590 Q630,596.4 623.9,594.9 L606,586 Q599,576 601.9,563.2 Z"/>
<path class="l" d="M621,557.7 Q613.6,566 615.6,579 Q618,590 623.9,594.9"/>
<!-- small connector -->
<path class="f" d="M588,579.7 L594.3,576.3 L601.9,581 Q606.4,583 606,586 L604.6,594.9 L599,598.3 L588.8,594.2 Z"/>
<path class="l" d="M588,579.7 L598,585.6 L597.6,597.6 M591,582.6 L597,586"/>
<path class="l" d="M571.8,490.4 L558,502 M616.4,504.2 L601.5,519"/>
<text x="577.7" y="491.5" text-anchor="middle">24</text>
<text x="622.8" y="505.4" text-anchor="middle">23</text>
<!-- bracket -->
<path class="t" d="M496.4,495.7 Q496.4,491.4 501,489.8 L575,461 Q581.6,459 583.5,464.9"/>
<path class="m" d="M535.7,473.4 C515,430 480,380 442.4,349.6"/>

<path class="m" style="stroke-width:1.8" stroke-dasharray="85.9 2000" d="M535.7,473.4 C515,430 480,380 442.4,349.6"/>
<path class="m" style="stroke-width:2.2" stroke-dasharray="46.8 2000" d="M535.7,473.4 C515,430 480,380 442.4,349.6"/>
<path class="k" d="M434.7,342.8 L444.5,347.2 L441.7,351.0 Z"/>
</g>

<g id="bottom">
<!-- bracket -->
<path class="t" d="M307,597.4 Q306.4,591.4 312,590 L461,565.6 Q467,565 467.6,572.4"/>
<path class="m" d="M387.6,577.6 C392,520 388,420 376,349.6"/>

<path class="m" style="stroke-width:1.8" stroke-dasharray="125.8 2000" d="M387.6,577.6 C392,520 388,420 376,349.6"/>
<path class="m" style="stroke-width:2.2" stroke-dasharray="68.6 2000" d="M387.6,577.6 C392,520 388,420 376,349.6"/>
<path class="k" d="M373.7,339.0 L378.8,348.5 L374.1,349.8 Z"/>
<!-- wire with connector -->
<path class="l" d="M355.8,620 L355.8,674 M360.4,620 L360.4,674 M355.8,677 L355.8,714 M360.4,677 L360.4,712 M354,674.2 L362,673.8 M354,677 L362,676.6"/>
<path class="f" d="M353.6,607 L362,604 L365,606 L365,617 L359,620.4 L353.6,617 Z"/>
<path class="l" d="M353.6,607 L359,610 L365,606 M359,610 L359,620.4 M357,620.6 L358,623 L359.4,620.6"/>
<!-- elbow + boot -->
<path class="l" d="M383.4,712.4 L397.6,704.6 M384.6,716.4 L398.8,708.6 M400,703.4 Q408,699 410.4,695 Q412.4,692 412.4,689 M401.4,707.4 Q411,702.6 413.4,697 Q414.6,693 414.2,689 M396.8,703.4 L399.6,709.6 M399,702.2 L401.8,708.4"/>
<path class="f" d="M354.6,715.8 Q358,713 362,714.6 L368,720 L368.6,727 L367.5,731.5 Q362,733.6 357.4,730.4 L354.8,727 Z"/>
<path class="l" d="M362,714.6 Q359.6,722 363.4,728 Q365.6,729.6 367.6,727.4"/>
<g class="f">
<ellipse cx="379.6" cy="714.6" rx="3" ry="9.2" transform="rotate(-14 379.6 714.6)"/>
<ellipse cx="376.8" cy="715.8" rx="3.1" ry="10.4" transform="rotate(-14 376.8 715.8)"/>
<ellipse cx="373.8" cy="717.2" rx="3.2" ry="11.4" transform="rotate(-14 373.8 717.2)"/>
<ellipse cx="370.8" cy="718.8" rx="3.2" ry="11.8" transform="rotate(-14 370.8 718.8)"/>
<ellipse cx="367.8" cy="720.6" rx="3.2" ry="11.4" transform="rotate(-14 367.8 720.6)"/>
</g>
<path class="f" stroke="none" d="M356,716 L362,715 L366.6,719.6 L367.4,726.6 L364,727 L360.6,722 Z"/>
<path class="l" d="M362,714.6 L366.8,719.4 Q368.6,724 367.5,729 M362,714.6 Q359.6,722 363.4,728 Q365.6,729.6 367.6,727.4"/>
<!-- clip 26 -->
<path class="f" d="M330,654.4 L333.8,652.5 L334.4,646.2 L336.9,640.6 Q340,638 343,639.4 Q345.6,640.6 345,644 L343.7,648.8 L340,656.9 L336.9,661.2 L332.5,665 L337.5,666.9 L336.9,673.7 L331.9,672.5 L330,665 Z"/>
<path class="l" d="M333.8,652.5 L337.5,656.2 L340,656.9 M331.9,654.6 L332.5,665 M333.8,652.5 L331.9,654.6"/>
<ellipse class="l" cx="339.8" cy="645" rx="1.7" ry="2.1" transform="rotate(20 339.8 645)"/>
<!-- clip 22 -->
<path class="f" d="M323.7,706.2 L336.9,698.8 Q340,696.6 342.6,697.6 Q346,699.4 346.2,703 L345.6,708.8 L341.9,710 L337.5,708 L336.9,712.5 L326.2,718 L323.7,716.2 Z"/>
<path class="l" d="M323.7,706.2 L327.5,710 L336.9,706.2 L337.5,708 M327.5,710 L326.2,718 M336.9,698.8 L336.9,706.2"/>
<ellipse class="l" cx="340.4" cy="702.5" rx="1.7" ry="2.2"/>
<path class="l" d="M312.4,660.4 L328,662 M307,713 L323,711 M384.4,627 L386.2,643.9 M401,656 L419.2,666.7 M426.4,597 L416,610 M457,609 L451,620 M494,632 L509,629 M511,666 L505,679 M416,689 L430,700"/>
<text x="304" y="662.5" text-anchor="middle">26</text>
<text x="298.4" y="716.5" text-anchor="middle">22</text>
<text x="384" y="624.6" text-anchor="middle">21</text>
<text x="429.6" y="595.7" text-anchor="middle">15</text>
<text x="462.6" y="605.7" text-anchor="middle">16</text>
<text x="516.6" y="631.5" text-anchor="middle">13</text>
<text x="501" y="690.5" text-anchor="middle">14</text>
<text x="436" y="707.8" text-anchor="middle">20</text>
<!-- screw 21 -->
<path class="f" d="M392.6,648.6 L400.9,652.5 Q401.8,654.8 399,657 L391.6,653.4 Z"/>
<path class="g" d="M394.6,649.6 Q393.4,652 394,654.6 M396.2,650.4 Q395,652.8 395.6,655.4 M397.8,651.2 Q396.6,653.6 397.2,656.2 M399.4,652 Q398.2,654.4 398.8,656.8"/>
<path class="f" d="M384,647 Q385,643.8 388,644.6 L393,646.9 Q394.6,650 391.1,653.6 L386.2,652.6 Q383.4,650.6 384,647 Z"/>
<path class="l" d="M388,644.6 Q385.6,648 387.4,652.8"/>
<!-- bolt 15 -->
<path class="f" d="M395,606.5 L398,601 L402.5,600.4 L405.4,603.4 L406,612 L401,618 L398,614.6 L395,611.6 Z"/>
<path class="l" d="M398,601 L399.6,606.4 L398,614.6 M399.6,606.4 L404.6,604.4 M395,606.5 L399.6,606.4"/>
<ellipse class="f" cx="406.6" cy="610.6" rx="6" ry="9.6" transform="rotate(-22 406.6 610.6)"/>
<ellipse class="l" cx="405.4" cy="610.8" rx="5.4" ry="9" transform="rotate(-22 405.4 610.8)"/>
<path class="f" d="M406.4,606.8 L429.6,619 Q433,621.4 432,625.6 Q430.4,629 427,628 L405.4,615.6 Q403.4,610 406.4,606.8 Z"/>
<path class="l" d="M429.6,619 Q426.6,622.6 427.4,628 M419.6,613.8 Q417,618 418.4,623.2 M421.8,615 Q419.2,619.2 420.6,624.4 M424,616.2 Q421.4,620.4 422.8,625.6 M426.2,617.4 Q423.6,621.6 425,626.8"/>
<!-- washer 16 -->
<ellipse class="f" cx="442.4" cy="633" rx="8.8" ry="13.8" transform="rotate(31 442.4 633)"/>
<ellipse class="f" cx="443.9" cy="632.4" rx="8.6" ry="13.5" transform="rotate(31 443.9 632.4)"/>
<ellipse class="l" cx="444.2" cy="633" rx="2.8" ry="4.3" transform="rotate(31 444.2 633)"/>
<path class="g" d="M443.2,630.6 Q446,632 445.2,636.4"/>
<!-- reluctor 13 -->
<path class="f" d="M470.5,625.8 L470.7,622.6 L474.4,621.5 L474.6,624.6 L475.9,624.4 L477.2,624.2 L478.5,624.2 L479.7,624.3 L480.9,624.5 L482.1,624.7 L483.3,625.1 L484.4,625.5 L484.4,625.5 L486.3,622.7 L489.2,624.4 L487.6,627.4 L488.5,628.2 L489.3,629.0 L490.0,629.9 L490.7,630.9 L491.4,631.9 L492.0,633.0 L492.5,634.1 L492.9,635.3 L492.9,635.3 L495.7,634.0 L496.5,637.7 L493.8,639.4 L494.0,641.5 L494.0,643.7 L493.8,645.9 L493.5,648.2 L492.9,650.4 L492.2,652.6 L491.3,654.8 L490.3,657.0 L490.3,657.0 L492.3,658.6 L490.0,662.4 L487.7,661.2 L486.3,663.0 L484.9,664.6 L483.3,666.2 L481.7,667.6 L480.0,668.8 L478.3,670.0 L476.5,670.9 L474.7,671.7 L474.7,671.7 L474.5,674.9 L470.8,676.0 L470.6,672.9 L469.4,673.1 L468.3,673.2 L467.1,673.3 L466.0,673.2 L464.9,673.1 L463.8,672.9 L462.8,672.7 L461.8,672.4 L461.8,672.4 L459.9,675.3 L457.0,673.8 L458.4,670.7 L457.5,670.0 L456.6,669.2 L455.8,668.4 L455.1,667.5 L454.4,666.5 L453.7,665.5 L453.2,664.4 L452.7,663.3 L452.7,663.3 L449.9,664.7 L448.9,661.1 L451.5,659.3 L451.3,657.2 L451.2,655.1 L451.2,653.0 L451.5,650.8 L451.9,648.6 L452.5,646.4 L453.2,644.3 L454.1,642.1 L454.1,642.1 L452.0,640.7 L454.1,636.8 L456.5,637.8 L457.9,635.8 L459.4,633.9 L461.1,632.1 L462.8,630.5 L464.7,629.0 L466.6,627.8 L468.5,626.7 L470.5,625.8 Z"/>
<ellipse class="l" cx="472.4" cy="649.6" rx="7.8" ry="3.8" transform="rotate(-62 472.4 649.6)"/>
<ellipse class="f" cx="476" cy="642.6" rx="1.2" ry="2.6" transform="rotate(-25 476 642.6)"/>
<!-- pin 14 -->
<path class="l" d="M476.4,642.4 L498,654.6"/>
<path class="f" d="M498.8,653 L522,664.8 Q524,666.4 523,668.2 Q521.6,669.6 520,668.8 L497.4,656.8 Q496.8,654.2 498.8,653 Z"/>
<path class="l" d="M522,664.6 Q520,666.6 519.6,669"/>
<!-- part 20 -->
<path class="f" d="M388.3,692.7 L392.2,689.3 L397.9,693 L397.9,696 L394.5,697.4 Z"/>
<path class="f" d="M419.2,668.5 Q420,665 423.7,664.5 Q428.4,664 430,667.4 Q431,671 429.4,674.4 L426,679.8 L419.2,682.6 L416.4,684 L416.4,676 L419.2,674 Z"/>
<path class="l" d="M421.6,669.4 Q422,667 424.4,666.6 M421.6,669.4 L421.6,681.4"/>
<circle class="l" cx="426.4" cy="671.2" r="2.5"/>
<circle class="l" cx="426.8" cy="671.4" r="1.2"/>
<path class="f" d="M392.2,672 L396.2,669.4 L412,669.4 L416.4,676.4 L416.4,687 L399,693.4 L397.9,688.8 L392.2,684.2 Z"/>
<path class="l" d="M392.2,672 L397.6,676.6 L397.9,688.8 M397.6,676.6 Q405,681 416.4,676.4 M392.2,684.2 L392.2,689.3 M399,693.4 L399,696"/>
<circle class="f" cx="401.4" cy="686" r="3.6"/>
<circle class="l" cx="402" cy="686.2" r="2"/>
<path class="f" d="M396.2,668.4 L396.4,675.4 Q404.4,681 412.6,675.4 L412.6,668.4 Z"/>
<ellipse class="f" cx="404.4" cy="668.3" rx="8.2" ry="4.6"/>
<path class="g" d="M406.4,666.6 Q403,665.8 403,668.4 Q403.4,670.4 406.4,670"/>
</g>

<g id="fwd">
<path class="f" style="stroke-width:1.6;stroke:#111" d="M158.1,724.1 L166.6,707.6 L168.2,707.2 L170.3,708.8 L186.9,699.4 L190.2,700.4 L190.6,714 L169.7,725 L170,729.4 Z"/>
<path class="l" style="stroke-width:1;stroke:#111" d="M160.2,723.6 L168.1,708.8 L170,711 L170.3,722.8 M170,711 L187.5,701.5 L188.1,712.8 L170.3,722.8 M187.5,701.5 L190.2,700.4"/>
<text transform="matrix(0.70,-0.40,0,1,170.4,722.6)" style="font-size:11.6px;font-weight:bold;font-style:italic;stroke-width:0.9px;fill:#000;stroke:#000">FWD</text>
<text x="156.6" y="744.3" style="font-size:10.4px" textLength="74.6" lengthAdjust="spacingAndGlyphs">5PW8351-B460</text>
</g>

</svg>
</body></html>
